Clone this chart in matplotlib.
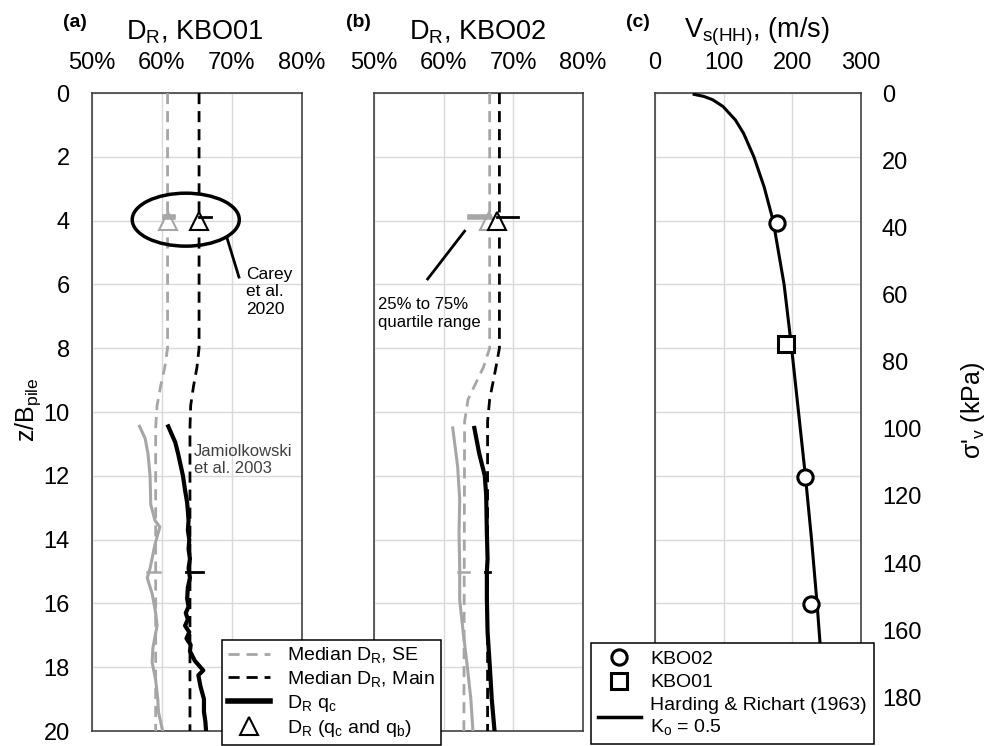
import matplotlib
matplotlib.use("Agg")
import matplotlib.pyplot as plt
from matplotlib.patches import Ellipse
from matplotlib.lines import Line2D

plt.rcParams['font.family'] = ['Liberation Sans', 'DejaVu Sans']
plt.rcParams['mathtext.fontset'] = 'custom'
plt.rcParams['mathtext.rm'] = 'Liberation Sans'
plt.rcParams['mathtext.it'] = 'Liberation Sans:italic'

GRAY = '#a6a6a6'
GRID = '#d9d9d9'

# ---- KBO01 (a) ----
z_med_a = [0, 8.0, 8.6, 9.2, 9.8, 10.5, 20]
se_med_a = [60.8, 60.8, 60.4, 59.8, 59.3, 59.1, 59.1]
main_med_a = [65.3, 65.3, 65.0, 64.5, 64.1, 64.0, 64.0]

z_qc_a = [10.45, 10.7, 10.95, 11.3, 11.6, 12.0, 12.45, 12.85, 13.1, 13.4, 13.7,
          14.0, 14.3, 14.6, 14.9, 15.2, 15.5, 15.85, 16.1, 16.3, 16.5, 16.7,
          16.9, 17.1, 17.3, 17.5, 17.8, 18.1, 18.25, 18.6, 19.0, 19.4, 19.7, 20.0]
dr_qc_a = [60.9, 61.4, 61.9, 62.3, 62.6, 63.0, 63.3, 63.6, 63.7, 63.8, 63.7,
           63.9, 63.8, 64.0, 63.8, 64.0, 63.7, 63.6, 63.8, 63.4, 63.7, 63.3,
           63.9, 63.5, 64.1, 64.0, 64.7, 65.9, 65.2, 65.5, 66.0, 66.0, 66.2, 66.3]
z_se_a = [10.45, 10.83, 11.3, 12.0, 12.9, 13.4, 13.6, 14.15, 14.9, 15.2, 15.7,
          16.3, 16.7, 17.4, 17.85, 18.4, 19.0, 19.4, 20.0]
dr_se_a = [56.8, 57.6, 58.0, 58.3, 58.4, 59.0, 59.7, 59.0, 58.3, 57.9, 58.6,
           59.1, 59.3, 58.7, 58.6, 59.1, 59.4, 59.5, 60.1]

tri_a = [60.8, 65.3]        # SE, Main at z = 4
iqr_a = [(60.4, 61.6), (65.3, 67.0)]
bar15_a = [(57.9, 59.7), (63.4, 65.9)]

# ---- KBO02 (b) ----
z_med_b = [0, 8.0, 8.6, 9.6, 10.3, 20]
se_med_b = [66.6, 66.6, 65.7, 63.5, 63.0, 62.9]
main_med_b = [68.0, 68.0, 67.5, 66.6, 66.3, 66.3]

z_qc_b = [10.5, 11.3, 12.0, 12.6, 13.8, 14.6, 15.0, 15.85, 16.9, 17.9, 19.0, 20.0]
dr_qc_b = [64.4, 65.1, 65.9, 66.1, 66.2, 66.3, 66.2, 66.2, 66.3, 66.6, 66.9, 67.3]
z_se_b = [10.5, 11.7, 12.75, 13.8, 14.85, 15.9, 16.9, 18.0, 19.0, 20.0]
dr_se_b = [61.3, 62.0, 62.3, 62.2, 62.3, 62.3, 62.8, 63.4, 63.9, 64.2]

tri_b = [66.5, 67.6]
iqr_b = [(63.8, 66.5), (67.6, 70.7)]
bar15_b = [(62.0, 63.7), (65.9, 66.6)]

# ---- Vs (c) ----
sig_hr = [0.4, 1, 2, 4, 8, 12, 19, 28, 38, 57, 76, 95, 114, 133, 152, 171, 190]
vs_hr = [57, 71, 84, 99, 117, 129, 144, 159, 172, 188, 199, 209, 219, 228, 236, 243, 249]
sig_kbo02 = [38.6, 114.5, 152.2]
vs_kbo02 = [178, 218, 227]
sig_kbo01 = [74.7]
vs_kbo01 = [191]

fig = plt.figure(figsize=(9.9, 7.46), dpi=100)
ax_a = fig.add_axes([0.0929, 0.0201, 0.2121, 0.8552])
ax_b = fig.add_axes([0.3778, 0.0201, 0.2111, 0.8552])
ax_c = fig.add_axes([0.6616, 0.0201, 0.2081, 0.8552])

TICK_FS = 17


def style(ax, xlim, xticks, xlabels):
    ax.set_xlim(*xlim)
    ax.set_ylim(20, 0)
    ax.xaxis.tick_top()
    ax.set_xticks(xticks)
    ax.set_xticklabels(xlabels)
    ax.set_yticks(range(0, 21, 2))
    ax.grid(True, color=GRID, lw=1, zorder=0)
    ax.set_axisbelow(True)
    ax.tick_params(length=0, labelsize=TICK_FS)
    ax.tick_params(axis='x', pad=14)
    ax.tick_params(axis='y', pad=16)
    for s in ax.spines.values():
        s.set_color('#333333')
        s.set_linewidth(1.1)


pct = ['50%', '60%', '70%', '80%']
style(ax_a, (50, 80), [50, 60, 70, 80], pct)
style(ax_b, (50, 80), [50, 60, 70, 80], pct)
style(ax_c, (0, 300), [0, 100, 200, 300], ['0', '100', '200', '300'])
ax_b.set_yticklabels([])
ax_c.set_yticklabels([])


def dr_panel(ax, z_med, se_med, main_med, z_qc, dr_qc, z_se, dr_se, tri, iqr, bar15):
    ax.plot(se_med, z_med, color=GRAY, lw=2, dashes=(4, 2.5), zorder=3)
    ax.plot(main_med, z_med, color='black', lw=2, dashes=(4, 2.5), zorder=3)
    ax.plot(dr_se, z_se, color=GRAY, lw=2.2, zorder=4)
    ax.plot(dr_qc, z_qc, color='black', lw=3, zorder=4)
    ax.plot(bar15[0], [15, 15], color=GRAY, lw=1.8, zorder=4)
    ax.plot(bar15[1], [15, 15], color='black', lw=2, zorder=4)
    ax.plot([tri[0]], [4], marker='^', ms=13, mfc='white', mec=GRAY, mew=1.5, zorder=5)
    ax.plot(iqr[0], [3.9, 3.9], color=GRAY, lw=4, zorder=5)
    ax.plot([tri[1]], [4], marker='^', ms=13, mfc='white', mec='black', mew=1.5, zorder=6)
    ax.plot(iqr[1], [3.9, 3.9], color='black', lw=2, zorder=6)


dr_panel(ax_a, z_med_a, se_med_a, main_med_a, z_qc_a, dr_qc_a, z_se_a, dr_se_a,
         tri_a, iqr_a, bar15_a)
dr_panel(ax_b, z_med_b, se_med_b, main_med_b, z_qc_b, dr_qc_b, z_se_b, dr_se_b,
         tri_b, iqr_b, bar15_b)

# annotations
ax_a.add_patch(Ellipse((63.4, 3.97), 15.3, 1.66, fill=False, ec='black', lw=2.5, zorder=7))
ax_a.plot([69.3, 71.0], [4.55, 5.77], color='black', lw=2, zorder=7)
ax_a.text(72.0, 5.45, 'Carey\net al.\n2020', fontsize=12.5, va='top', ha='left',
          linespacing=1.2)
ax_a.text(64.6, 11.0, 'Jamiolkowski\net al. 2003', fontsize=12, va='top', ha='left',
          color='#404040', linespacing=1.15)
ax_b.plot([63.0, 57.7], [4.33, 5.83], color='black', lw=2, zorder=7)
ax_b.text(50.6, 6.4, '25% to 75%\nquartile range', fontsize=12, va='top', ha='left',
          linespacing=1.2)

fig.text(28 / 990, 1 - 410 / 746, 'z/B$_\\mathrm{pile}$', fontsize=18, rotation=90,
         ha='center', va='center')

# shear wave velocity vs vertical effective stress
ax_c2 = ax_c.twinx()
ax_c2.set_ylim(190, 0)
ax_c2.set_yticks(range(0, 181, 20))
ax_c2.tick_params(length=0, labelsize=TICK_FS, pad=15)
for s in ax_c2.spines.values():
    s.set_visible(False)
ax_c2.plot(vs_hr, sig_hr, color='black', lw=2.2, zorder=3)
ax_c2.plot(vs_kbo02, sig_kbo02, ls='none', marker='o', ms=11, mfc='white', mec='black',
           mew=2.2, zorder=4)
ax_c2.plot(vs_kbo01, sig_kbo01, ls='none', marker='s', ms=11, mfc='white', mec='black',
           mew=2.2, zorder=4)
fig.text(973 / 990, 1 - 410 / 746, "σ'$_\\mathrm{v}$ (kPa)", fontsize=18, rotation=90,
         ha='center', va='center')

# panel titles
fig.text(0.076, 0.970, '(a)', fontsize=14, fontweight='bold', ha='center', va='center')
fig.text(0.197, 0.957, 'D$_\\mathrm{R}$, KBO01', fontsize=19.5, ha='center', va='center')
fig.text(0.362, 0.970, '(b)', fontsize=14, fontweight='bold', ha='center', va='center')
fig.text(0.483, 0.957, 'D$_\\mathrm{R}$, KBO02', fontsize=19.5, ha='center', va='center')
fig.text(0.644, 0.970, '(c)', fontsize=14, fontweight='bold', ha='center', va='center')
fig.text(0.765, 0.957, 'V$_\\mathrm{s(HH)}$, (m/s)', fontsize=19.5, ha='center', va='center')

# legends
h_ab = [
    Line2D([], [], color=GRAY, lw=2, dashes=(4, 2.5)),
    Line2D([], [], color='black', lw=2, dashes=(4, 2.5)),
    Line2D([], [], color='black', lw=4),
    Line2D([], [], ls='none', marker='^', ms=13, mfc='white', mec='black', mew=1.5),
]
l_ab = ['Median D$_\\mathrm{R}$, SE', 'Median D$_\\mathrm{R}$, Main',
        'D$_\\mathrm{R}$ q$_\\mathrm{c}$', 'D$_\\mathrm{R}$ (q$_\\mathrm{c}$ and q$_\\mathrm{b}$)']
leg1 = fig.legend(h_ab, l_ab, loc='lower left', bbox_to_anchor=(0.224, 0.0015),
                  fontsize=14, frameon=True, fancybox=False, edgecolor='black',
                  framealpha=1, borderaxespad=0, handlelength=2.2, labelspacing=0.2,
                  borderpad=0.3, handletextpad=0.85)
leg1.get_frame().set_linewidth(1.1)

h_c = [
    Line2D([], [], ls='none', marker='o', ms=11, mfc='white', mec='black', mew=2.2),
    Line2D([], [], ls='none', marker='s', ms=11, mfc='white', mec='black', mew=2.2),
    Line2D([], [], color='black', lw=2.5),
]
l_c = ['KBO02', 'KBO01', 'Harding & Richart (1963)\nK$_\\mathrm{o}$ = 0.5']
leg2 = fig.legend(h_c, l_c, loc='lower left', bbox_to_anchor=(0.597, 0.0027),
                  fontsize=14, frameon=True, fancybox=False, edgecolor='black',
                  framealpha=1, borderaxespad=0, handlelength=2.2, labelspacing=0.3,
                  borderpad=0.35, handletextpad=0.5)
leg2.get_frame().set_linewidth(1.1)

fig.savefig('out.png', dpi=100)
